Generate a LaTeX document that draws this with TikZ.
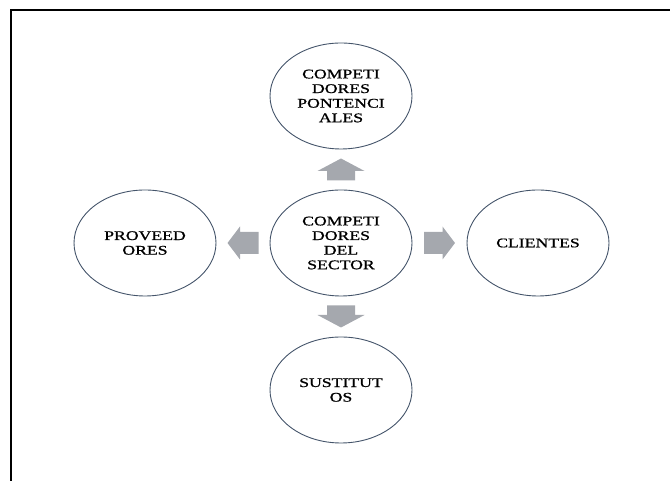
\documentclass[tikz,border=0pt]{standalone}
\usepackage{fontspec}
\setmainfont{Liberation Serif}
\newfontfamily\forcefont[FakeBold=0.9]{Liberation Serif}
\usetikzlibrary{shapes.geometric,calc}

\definecolor{rim}{HTML}{44546A}
\definecolor{blockgray}{HTML}{A5A8AE}

\tikzset{
  force/.style={ellipse, draw=rim, line width=0.9pt, minimum width=142pt,
    minimum height=106pt, inner sep=0pt},
  forcetext/.style={align=center, inner sep=0pt, xscale=1.34, transform shape,
    font=\forcefont\fontsize{13.2}{14.6}\selectfont},
  blockarrow/.style={fill=blockgray, draw=none},
  frameline/.style={line width=2.2pt, black}
}

\begin{document}
\begin{tikzpicture}[x=1pt, y=1pt]
  \useasboundingbox (0,0) rectangle (670,481);

  % open frame: top edge and left edge only
  \coordinate (fl) at (11,0);
  \coordinate (fc) at (11,471);
  \coordinate (fr) at (670,471);
  \draw[frameline] (fl) -- (fc) -- (fr);

  % the five forces
  \node[force] (top) at (341,385) {};
  \node[force] (mid) at (341,238) {};
  \node[force] (bot) at (341,91) {};
  \node[force] (lft) at (145,238) {};
  \node[force] (rgt) at (538,238) {};

  \node[forcetext] (toptxt) at (top) {COMPETI\\DORES\\PONTENCI\\ALES};
  \node[forcetext] (midtxt) at (mid) {COMPETI\\DORES\\DEL\\SECTOR};
  \node[forcetext] (bottxt) at (bot) {SUSTITUT\\OS};
  \node[forcetext] (lfttxt) at (lft) {PROVEED\\ORES};
  \node[forcetext] (rgttxt) at (rgt) {CLIENTES};

  % block arrows between the centre and each outer force
  \coordinate (mup) at ($(mid.north)!0.5!(top.south)$);
  \coordinate (mdn) at ($(mid.south)!0.5!(bot.north)$);
  \coordinate (mlf) at ($(mid.west)!0.5!(lft.east)$);
  \coordinate (mrt) at ($(mid.east)!0.5!(rgt.west)$);

  \fill[blockarrow, shift={(mup)}] (-14,-11) -- (14,-11) -- (14,-1.5) -- (23.5,-1.5)
    -- (0,11) -- (-23.5,-1.5) -- (-14,-1.5) -- cycle;
  \fill[blockarrow, shift={(mdn)}] (-14,11) -- (14,11) -- (14,1.5) -- (23.5,1.5)
    -- (0,-11) -- (-23.5,1.5) -- (-14,1.5) -- cycle;
  \fill[blockarrow, shift={(mrt)}] (-15.5,-11) -- (-15.5,11) -- (3,11) -- (3,16.5)
    -- (15.5,0) -- (3,-16.5) -- (3,-11) -- cycle;
  \fill[blockarrow, shift={(mlf)}] (15.5,-11) -- (15.5,11) -- (-3,11) -- (-3,16.5)
    -- (-15.5,0) -- (-3,-16.5) -- (-3,-11) -- cycle;
\end{tikzpicture}
\end{document}
